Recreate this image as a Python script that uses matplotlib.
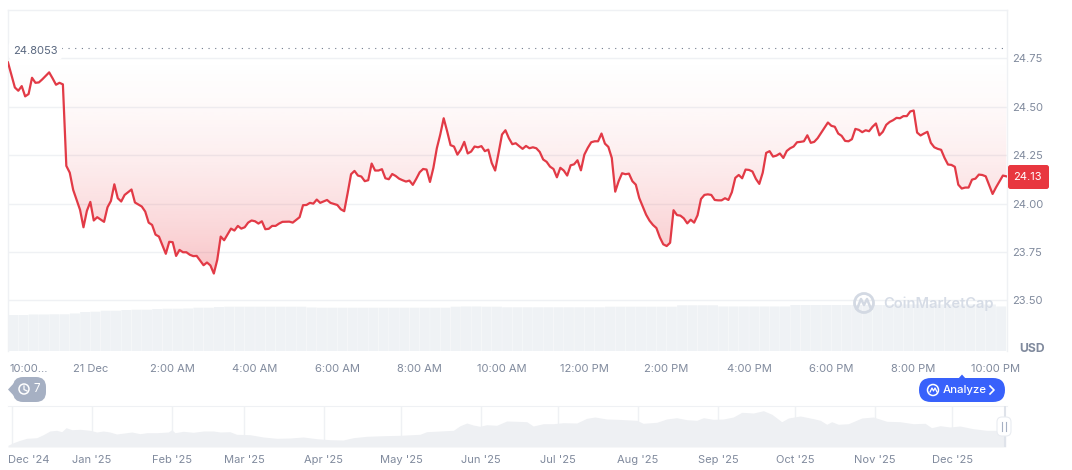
import numpy as np
import matplotlib
matplotlib.use('Agg')
import matplotlib.pyplot as plt
from matplotlib.patches import FancyBboxPatch, Polygon, Circle
from matplotlib.transforms import ScaledTranslation

plt.rcParams['font.family'] = ['Inter', 'DejaVu Sans']

# price, one step = 5 minutes from 22:00 on 20 Dec
price_steps = [0,1,2,3,4,5,6,7,8,9,10,12,13,14,15,16,17,18,19,21,22,23,24,25,26,28,29,30,31,32,33,34,36,37,39,40,41,42,43,44,
               46,47,48,49,50,51,52,53,54,55,57,58,59,60,61,62,63,65,66,67,68,69,70,71,72,73,74,75,76,77,78,79,80,82,83,85,
               86,87,88,89,90,91,93,94,96,97,98,99] + list(range(100, 292))
prices = [24.729,24.664,24.600,24.583,24.607,24.554,24.566,24.650,24.624,24.626,24.642,24.678,24.647,24.614,24.624,24.616,
          24.195,24.160,24.071,23.968,23.878,23.963,24.009,23.913,23.930,23.906,23.981,24.014,24.100,24.028,24.011,24.045,
          24.073,24.006,23.985,23.959,23.902,23.890,23.840,23.830,23.741,23.803,23.801,23.730,23.761,23.749,23.749,23.736,
          23.729,23.730,23.682,23.696,23.681,23.639,23.710,23.830,23.811,23.871,23.861,23.885,23.871,23.878,23.902,23.913,
          23.909,23.897,23.909,23.868,23.870,23.885,23.885,23.897,23.906,23.907,23.902,23.930,23.992,23.993,24.004,24.000,
          24.021,24.004,24.019,24.004,23.993,23.971,23.961,24.054,
          24.152,24.169,24.145,24.140,24.116,24.121,24.207,24.171,24.171,24.178,24.131,24.126,24.153,24.143,24.129,24.121,
          24.114,24.119,24.097,24.128,24.162,24.179,24.176,24.112,24.185,24.286,24.357,24.441,24.374,24.302,24.295,24.253,
          24.279,24.319,24.259,24.269,24.295,24.291,24.297,24.271,24.279,24.210,24.171,24.262,24.357,24.379,24.338,24.307,
          24.312,24.297,24.283,24.298,24.286,24.291,24.286,24.267,24.228,24.216,24.191,24.179,24.136,24.185,24.171,24.145,
          24.198,24.203,24.224,24.172,24.253,24.288,24.317,24.322,24.322,24.362,24.310,24.293,24.236,24.062,24.116,24.157,
          24.152,24.155,24.116,24.098,24.029,23.986,23.943,23.912,23.890,23.874,23.826,23.790,23.781,23.798,23.966,23.941,
          23.938,23.924,23.898,23.917,23.902,23.940,
          24.024,24.045,24.048,24.045,24.019,24.017,24.017,24.028,24.019,24.059,24.133,24.148,24.131,24.176,24.174,24.166,
          24.128,24.102,24.160,24.262,24.271,24.243,24.248,24.259,24.236,24.272,24.286,24.295,24.317,24.319,24.322,24.353,
          24.314,24.319,24.338,24.365,24.391,24.419,24.402,24.397,24.362,24.350,24.324,24.322,24.333,24.386,24.381,24.369,
          24.379,24.374,24.397,24.414,24.353,24.371,24.407,24.422,24.431,24.443,24.441,24.452,24.452,24.476,24.481,24.367,
          24.352,24.362,24.371,24.314,24.291,24.283,24.278,24.236,24.202,24.200,24.190,24.098,24.078,24.083,24.083,24.124,
          24.129,24.150,24.148,24.141,24.095,24.050,24.084,24.114,24.145,24.141]
start_price = 24.8053
last_price = 24.13

# volume per 15 minutes, relative units
volume = [36,36,36.5,36.5,36.7,36.7,37.5,39,39.3,40.3,40.3,41,41.3,41.3,42,42.3,42.3,42.5,43.3,43.3,44,44.3,44.3,44.3,44.3,
          44.3,44.3,44.3,44.3,43.5,43.3,43.3,43.3,43.3,43.3,43.3,43.3,43.3,43.3,43.3,43.3,43.3,43.3,44.3,44.5,44.5,44.3,44.3,
          43.7,43.7,43.7,43.7,43.7,43.7,43.7,43.7,43.7,43.7,44.3,44.3,44.3,44.3,44.3,44.3,44.3,45.7,45.7,45.7,45.7,44.5,44.5,
          44.5,44.5,44.5,44.5,44.5,46,46,46,46,46,46,46,46,46,46,46.5,46.5,46.5,46.5,46.5,46.5,46.5,46.5,46.5,46.5,44.5]

price_ticks = [23.50, 23.75, 24.00, 24.25, 24.50, 24.75]
time_ticks = [0, 120, 240, 360, 480, 600, 720, 840, 960, 1080, 1200, 1320, 1440]
time_labels = ['10:00...', '21 Dec', '2:00 AM', '4:00 AM', '6:00 AM', '8:00 AM', '10:00 AM', '12:00 PM',
               '2:00 PM', '4:00 PM', '6:00 PM', '8:00 PM', '10:00 PM']

# year overview, days since 1 Dec 2024 and height of the area
overview_days = [-1.7,0.4,3.0,5.6,9.5,12.0,14.6,17.2,19.2,20.9,23.1,26.3,30.2,32.8,35.3,37.9,40.5,44.4,46.4,49.6,52.2,56.1,
                 60.6,61.9,63.2,66.4,70.3,74.2,78.1,80.7,84.5,87.1,92.3,97.5,102.7,107.8,113,118.2,123.4,128.5,132.4,135,
                 137.6,144.1,150.6,158.3,160.9,166.1,171.3,173.9,176.5,179,181.6,184.2,188.1,192,195.9,199.8,202.3,206.2,
                 210.1,214,219.2,223.1,226.3,230.8,234.7,242.5,245,250.3,254.1,258,261.9,265.8,268.4,272.2,276.1,280,283.3,
                 287.8,291.7,295,298.8,301.4,306,311.2,313.8,316.3,318.2,320.8,324.7,329.9,334.4,339.6,344.7,349.9,354.5,
                 357,360.3,364.2,368,373.2,378.4,383.6,385.8]
overview_level = [1.7,4.3,6.7,8.7,9.3,12.3,16,16.7,15.3,19.3,17.3,17.7,16.7,15,16,15,13,14.3,15,13.3,14.3,14.3,
                  15,17.3,14.3,15.7,14.7,16,16,15,15.3,12.7,12.3,10,8.7,9,10,8.3,7.3,7,9.3,10,
                  10.7,11.3,11.7,12.7,15.3,16,16.7,21.3,24,22,20.7,22.3,21.7,26,25.7,25.3,21,23.3,
                  23.3,24.3,24,28.7,30,28,27.7,26.7,23.7,24.7,28,29.3,27.3,26.7,29.3,27.7,28,30,34.7,
                  34,36.3,32.7,25.3,29,31,28.3,26.7,22.7,25.3,22.7,23.3,29,30,25.7,25.3,23.3,23.7,
                  19.3,21.3,20,21,18.3,16.7,16.7,13.3]
month_days = [0, 31, 62, 90, 121, 151, 182, 212, 243, 274, 304, 335, 365]
month_labels = ["Dec '24", "Jan '25", "Feb '25", "Mar '25", "Apr '25", "May '25", "Jun '25", "Jul '25",
                "Aug '25", "Sep '25", "Oct '25", "Nov '25", "Dec '25"]

RED = '#e23a46'
GREY = '#808a9d'
GRID = '#eff1f4'
W, H = 1072, 470
FS = 8.0


def box(x0, y0, x1, y1):
    return [x0 / W, 1 - y1 / H, (x1 - x0) / W, (y1 - y0) / H]


def nudge(label, px):
    label.set_ha('left')
    label.set_transform(label.get_transform() + ScaledTranslation(px / 100, 0, fig.dpi_scale_trans))


fig = plt.figure(figsize=(W / 100, H / 100), dpi=100)
ax = fig.add_axes(box(8, 10, 1007, 351))
minutes = np.array(price_steps) * 5
ax.set_xlim(0, 1456)
ax.set_ylim(23.239, 25.0)

# gradient under the start price, clipped to the area down to the line
fill = ax.fill_between(minutes, prices, start_price, color='none', lw=0)
alpha = 0.30 * np.linspace(0.0, 1.0, 256).reshape(-1, 1) ** 1.7
rgba = np.zeros((256, 1, 4))
rgba[..., 0] = 234 / 255
rgba[..., 1] = 57 / 255
rgba[..., 2] = 67 / 255
rgba[..., 3] = alpha
img = ax.imshow(rgba, extent=[0, 1456, 23.63, start_price], origin='upper', aspect='auto', zorder=1)
img.set_clip_path(fill.get_paths()[0], ax.transData)
ax.set_xlim(0, 1456)
ax.set_ylim(23.239, 25.0)

ax.set_yticks(price_ticks)
ax.set_yticklabels(['%.2f' % p for p in price_ticks])
ax.yaxis.tick_right()
ax.set_xticks(time_ticks)
ax.set_xticklabels(time_labels)
ax.tick_params(axis='both', length=0, labelsize=FS, labelcolor=GREY)
ax.tick_params(axis='y', pad=4)
ax.tick_params(axis='x', pad=9)
nudge(ax.xaxis.get_ticklabels()[0], 2)
ax.grid(axis='y', color=GRID, lw=1)
ax.set_axisbelow(True)
for s in ax.spines.values():
    s.set_color(GRID)
    s.set_linewidth(1)
ax.spines['bottom'].set_visible(False)

ax.axhline(start_price, color='#6f7a8c', lw=0.8, dashes=(1, 5), zorder=2)
ax.plot(minutes, prices, color=RED, lw=1.6, zorder=4, solid_joinstyle='round')

# volume strip
vol = fig.add_axes(box(8, 10, 1007, 351), sharex=ax)
vol.patch.set_alpha(0)
vol.axis('off')
vol.set_ylim(0, 341)
bars = vol.bar((np.arange(len(volume)) + 0.5) * 15, volume, width=14.6, color='#eff2f5', lw=0)
for b in bars:
    b.set_snap(False)
vol.set_xlim(0, 1456)

# year overview
nav = fig.add_axes(box(8, 406, 1007, 447))
nav.set_xlim(-1.67, 386.3)
nav.set_ylim(0, 41)
nav.fill_between(overview_days, overview_level, 0, color='#eef0f3', lw=0, zorder=2)
nav.set_xticks(month_days)
nav.set_xticklabels(month_labels)
nav.set_yticks([])
nav.tick_params(axis='x', length=0, labelsize=FS, labelcolor=GREY, pad=6)
nudge(nav.xaxis.get_ticklabels()[0], -4.3)
nav.grid(axis='x', color=GRID, lw=1, zorder=1)
nav.set_axisbelow(True)
for s in nav.spines.values():
    s.set_visible(False)
nav.spines['top'].set_visible(True)
nav.spines['top'].set_color(GRID)
nav.axvline(385.6, color='#dfe3ea', lw=1.5, zorder=3)

# page furniture, in pixels
top = fig.add_axes([0, 0, 1, 1])
top.set_xlim(0, W)
top.set_ylim(H, 0)
top.axis('off')
top.patch.set_alpha(0)

top.text(35.5, 50.5, '24.8053', fontsize=FS, color='#58667e', ha='center', va='center', zorder=3,
         bbox=dict(boxstyle='round,pad=0.4', fc='white', ec='none'))
top.add_patch(FancyBboxPatch((1008, 165), 41, 24, boxstyle='round,pad=0,rounding_size=2.5', fc='#e8373f', ec='none'))
top.text(1027, 177.3, '%.2f' % last_price, fontsize=FS, color='white', ha='center', va='center')
top.text(1032, 348.5, 'USD', fontsize=8.8, fontweight='bold', color=GREY, ha='center', va='center')

# watermark
top.add_patch(Circle((864, 303), 9.5, fc='none', ec='#d3d9e3', lw=2))
top.plot([857, 861, 864, 867, 871], [309, 299, 305, 299, 309], color='#d3d9e3', lw=1.8)
top.text(883, 303.8, 'CoinMarketCap', fontsize=10.5, fontweight='semibold', color='#d6dce6', ha='left', va='center')

# history badge
top.add_patch(FancyBboxPatch((13, 377), 33, 25, boxstyle='round,pad=0,rounding_size=10', fc='#a6b0c3', ec='none'))
top.add_patch(Polygon([(8, 389.5), (15, 382), (15, 397)], fc='#a6b0c3', ec='none'))
top.add_patch(Circle((24, 389), 5, fc='none', ec='white', lw=1.1))
top.plot([24, 24, 27], [386, 389.5, 391], color='white', lw=0.9)
top.text(37, 389.5, '7', fontsize=FS + 0.4, color='white', ha='center', va='center')

# analyze button
top.add_patch(FancyBboxPatch((919, 378), 86, 24, boxstyle='round,pad=0,rounding_size=12', fc='#3861fb', ec='none'))
top.add_patch(Polygon([(958, 379), (962, 374.5), (966, 379)], fc='#3861fb', ec='none'))
top.add_patch(Circle((933, 390), 5.5, fc='none', ec='white', lw=1.1))
top.plot([930, 932, 933.5, 935, 937], [392, 388, 391, 388, 392], color='white', lw=0.9)
top.text(943, 390, 'Analyze', fontsize=FS + 0.2, fontweight='medium', color='white', ha='left', va='center')
top.plot([990, 994, 990], [386, 390, 394], color='white', lw=1.2)

# overview handle
top.add_patch(FancyBboxPatch((997, 417), 14, 19, boxstyle='round,pad=0,rounding_size=5', fc='white', ec='#e9ecf1', lw=0.8))
top.plot([1001.5, 1001.5], [422, 431], color='#a6b0c3', lw=0.8)
top.plot([1005.5, 1005.5], [422, 431], color='#a6b0c3', lw=0.8)

fig.savefig('out.png', dpi=100)
